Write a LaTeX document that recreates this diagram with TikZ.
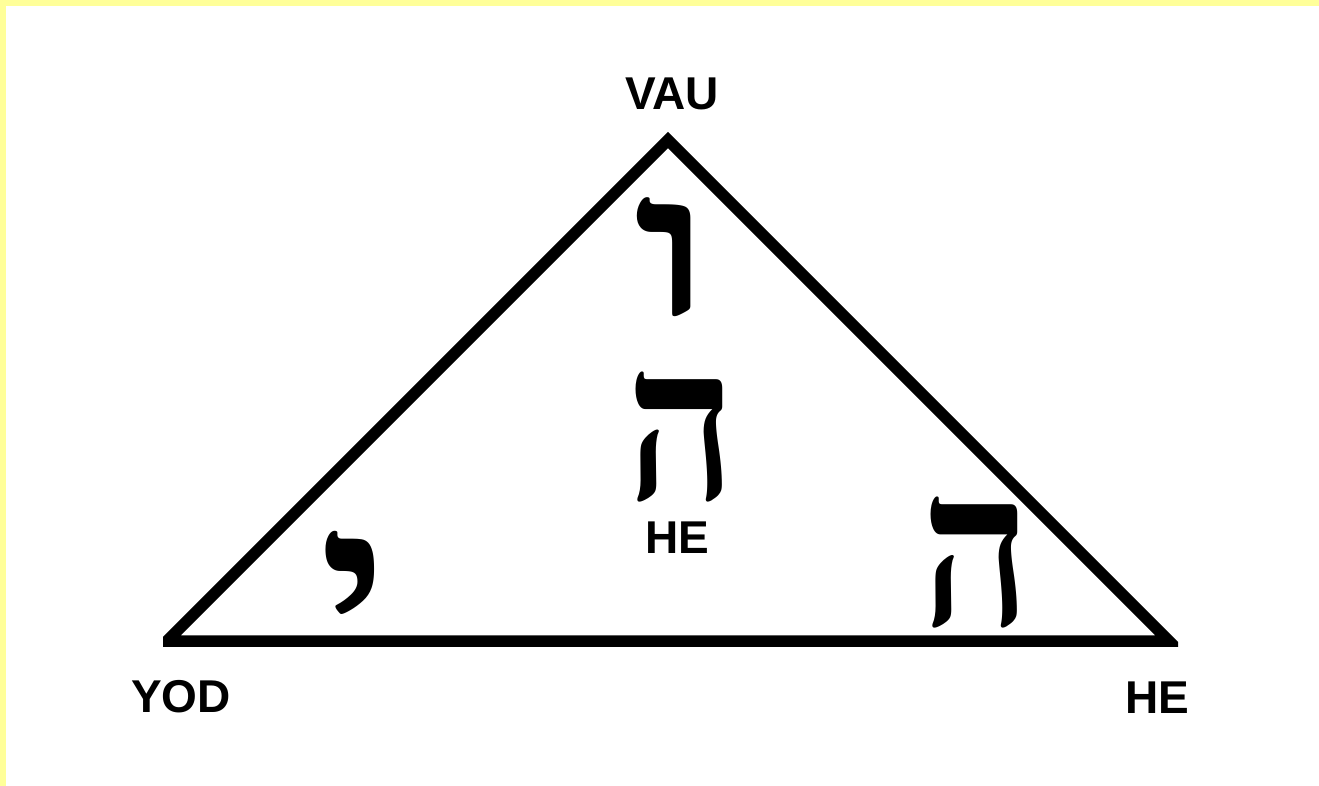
\documentclass[tikz,border=0pt]{standalone}
\usepackage{fontspec}
\usepackage{graphicx}
\setmainfont{Liberation Sans}
\newfontfamily\hebfont[Script=Hebrew]{Liberation Serif}
\TeXXeTstate=1
\definecolor{frameyellow}{HTML}{FFFF99}
\begin{document}
\begin{tikzpicture}[x=1pt,y=-1pt,
  lbl/.style={font=\fontsize{46}{46}\selectfont\bfseries, inner sep=0pt, anchor=base},
  heb/.style={inner sep=0pt, anchor=center},
  edge/.style={line width=11.5pt, line join=miter}]
\useasboundingbox (0,0) rectangle (1319,786);
\fill[white] (0,0) rectangle (1319,786);
\fill[frameyellow] (0,0) rectangle (1319,6);
\fill[frameyellow] (0,0) rectangle (6,786);
% vertices
\coordinate (Y) at (167,641);
\coordinate (V) at (668,140);
\coordinate (H) at (1169,641);
\begin{scope}
  \clip (163,0) rectangle (1178,786);
  \draw[edge] (Y) -- (V) -- (H) -- cycle;
\end{scope}
% labels
\node[lbl] (lv) at (672,110) {VAU};
\node[lbl] (ly) at (181,712) {YOD};
\node[lbl] (lhc) at (677,553) {HE};
\node[lbl] (lhr) at (1157,713) {HE};
% hebrew letters
\node[heb] (vav) at (674,257) {\resizebox*{80pt}{119pt}{\hebfont\bfseries\beginR ו\endR}};
\node[heb] (hec) at (682,437) {\resizebox*{110pt}{130pt}{\hebfont\bfseries\beginR ה\endR}};
\node[heb] (her) at (977,562.5) {\resizebox*{110pt}{131pt}{\hebfont\bfseries\beginR ה\endR}};
\node[heb] (yod) at (354,599.5) {\resizebox*{68pt}{137pt}{\hebfont\bfseries\beginR י\endR}};
\end{tikzpicture}
\end{document}
